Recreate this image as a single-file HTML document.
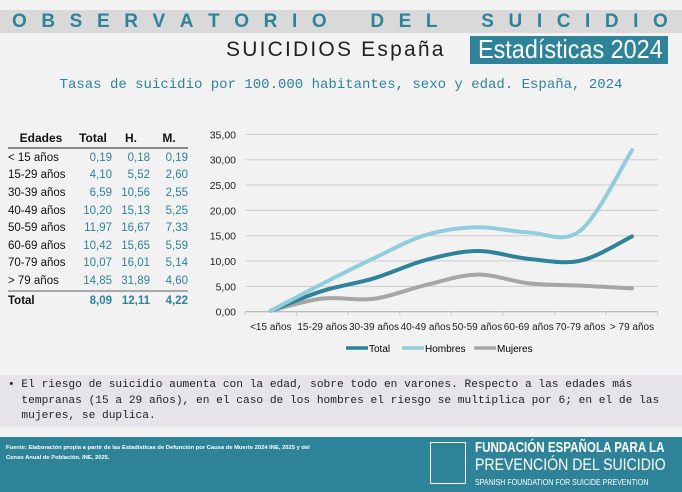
<!DOCTYPE html>
<html><head><meta charset="utf-8">
<style>
body{margin:0;width:682px;height:492px;background:#f2f2f2;font-family:"Liberation Sans",sans-serif;position:relative;overflow:hidden}
.a{position:absolute}
.hdr{left:0;top:10px;width:682px;height:23px;background:#d9d9d9}
.obs{left:12px;top:10px;width:656px;height:23px;display:flex;justify-content:space-between;font-size:19px;font-weight:bold;color:#2e8399;line-height:23px}
.sub{left:226px;top:36px;font-size:21px;color:#222;letter-spacing:2.2px;line-height:28px;white-space:nowrap}
.box{left:470px;top:36px;width:198px;height:28px;background:#2e8399}
.boxt{left:478px;top:35px;color:#fff;font-size:26px;line-height:28px;white-space:nowrap;transform:scaleX(0.9);transform-origin:left}
.ttl{left:0;width:682px;top:77px;text-align:center;font-family:"Liberation Mono",monospace;font-size:14px;color:#2e8399}
table{position:absolute;left:8px;top:129px;border-collapse:collapse;font-size:11.5px;white-space:nowrap}
td{padding:0;height:17.6px;text-align:right;color:#2e8399}
td:first-child{text-align:left;color:#111;width:66px}
td.c{width:38px}
th{font-size:12px;height:16px;color:#111;text-align:center;border-bottom:2px solid #888}
tr.t td{font-weight:bold;border-top:2px solid #aaa}
.bul{left:0;top:375px;width:682px;height:52px;background:#e6e4e8}
.bt{left:8px;top:378px;width:670px;font-family:"Liberation Mono",monospace;font-size:11.2px;line-height:15.5px;color:#222;white-space:nowrap}
.ft{left:0;top:437px;width:682px;height:55px;background:#2e8399}
.src{left:6px;top:443px;font-size:5.8px;font-weight:bold;color:#fff;line-height:10px;white-space:nowrap}
.lg{left:475px;color:#fff;line-height:17px;white-space:nowrap;transform-origin:left}
</style></head><body>
<div class="a hdr"></div>
<div class="a obs"><span>O</span><span>B</span><span>S</span><span>E</span><span>R</span><span>V</span><span>A</span><span>T</span><span>O</span><span>R</span><span>I</span><span>O</span><span> </span><span> </span><span>D</span><span>E</span><span>L</span><span> </span><span> </span><span>S</span><span>U</span><span>I</span><span>C</span><span>I</span><span>D</span><span>I</span><span>O</span></div>
<div class="a sub">SUICIDIOS España</div>
<div class="a box"></div>
<div class="a boxt">Estadísticas 2024</div>
<div class="a ttl">Tasas de suicidio por 100.000 habitantes, sexo y edad. España, 2024</div>
<table>
<tr><th style="text-align:center">Edades</th><th>Total</th><th>H.</th><th>M.</th></tr>
<tr><td>&lt; 15 años</td><td class="c">0,19</td><td class="c">0,18</td><td class="c">0,19</td></tr>
<tr><td>15-29 años</td><td>4,10</td><td>5,52</td><td>2,60</td></tr>
<tr><td>30-39 años</td><td>6,59</td><td>10,56</td><td>2,55</td></tr>
<tr><td>40-49 años</td><td>10,20</td><td>15,13</td><td>5,25</td></tr>
<tr><td>50-59 años</td><td>11,97</td><td>16,67</td><td>7,33</td></tr>
<tr><td>60-69 años</td><td>10,42</td><td>15,65</td><td>5,59</td></tr>
<tr><td>70-79 años</td><td>10,07</td><td>16,01</td><td>5,14</td></tr>
<tr><td>&gt; 79 años</td><td>14,85</td><td>31,89</td><td>4,60</td></tr>
<tr class="t"><td>Total</td><td>8,09</td><td>12,11</td><td>4,22</td></tr>
</table>
<svg class="a" style="left:0;top:0" width="682" height="492" font-family="Liberation Sans,sans-serif" font-size="10.5">
<g stroke="#ccc" stroke-width="1" id="grid"></g>
<g id="ylab" fill="#222" text-anchor="end"></g>
<g id="xlab" fill="#222" text-anchor="middle" font-size="10"></g>
<path id="pM" fill="none" stroke="#a6a6a6" stroke-width="4" stroke-linecap="round"/>
<path id="pT" fill="none" stroke="#2e8399" stroke-width="4" stroke-linecap="round"/>
<path id="pH" fill="none" stroke="#92cddc" stroke-width="4" stroke-linecap="round"/>
<g font-size="10">
<line x1="346" y1="348" x2="368" y2="348" stroke="#2e8399" stroke-width="3.5"/><text x="369" y="352">Total</text>
<line x1="402" y1="348" x2="424" y2="348" stroke="#92cddc" stroke-width="3.5"/><text x="425" y="352">Hombres</text>
<line x1="474" y1="348" x2="496" y2="348" stroke="#a6a6a6" stroke-width="3.5"/><text x="497" y="352">Mujeres</text>
</g>
</svg>
<div class="a bul"></div>
<div class="a bt">• El riesgo de suicidio aumenta con la edad, sobre todo en varones. Respecto a las edades más<br>&nbsp;&nbsp;tempranas (15 a 29 años), en el caso de los hombres el riesgo se multiplica por 6; en el de las<br>&nbsp;&nbsp;mujeres, se duplica.</div>
<div class="a ft"></div>
<div class="a src">Fuente: Elaboración propia a partir de las Estadísticas de Defunción por Causa de Muerte 2024 INE, 2025 y del<br>Censo Anual de Población. INE, 2025.</div>
<div class="a" style="left:430px;top:442px;width:34px;height:40px;border:1.5px solid #fff"></div>
<div class="a lg" style="top:440px;font-weight:bold;font-size:14.5px;transform:scaleX(0.8)">FUNDACIÓN ESPAÑOLA PARA LA</div>
<div class="a lg" style="top:456px;font-size:17px;transform:scaleX(0.83)">PREVENCIÓN DEL SUICIDIO</div>
<div class="a lg" style="top:474px;font-size:8px;transform:scaleX(0.88)">SPANISH FOUNDATION FOR SUICIDE PREVENTION</div>
<script>
var ns="http://www.w3.org/2000/svg",y0=311.7,k=5.066,x0=245,w=51.6;
function el(t,a,p,txt){var e=document.createElementNS(ns,t);for(var i in a)e.setAttribute(i,a[i]);if(txt)e.textContent=txt;document.getElementById(p).appendChild(e);}
for(var i=0;i<=7;i++){var y=y0-i*5*k;el("line",{x1:x0,x2:658,y1:y,y2:y,stroke:i?"#ccc":"#aaa"},"grid");el("text",{x:236,y:y+4},"ylab",(i*5)+",00");}
for(i=0;i<=8;i++)el("line",{x1:x0+i*w,x2:x0+i*w,y1:y0,y2:y0+4},"grid");
var cats=["<15 años","15-29 años","30-39 años","40-49 años","50-59 años","60-69 años","70-79 años","> 79 años"];
cats.forEach(function(c,i){el("text",{x:x0+w/2+i*w,y:330},"xlab",c);});
function path(v){var p=v.map(function(a,i){return[x0+w/2+i*w,y0-a*k];});var d="M"+p[0];for(var i=0;i<p.length-1;i++){var a=p[i-1]||p[i],b=p[i],c=p[i+1],e=p[i+2]||c;d+="C"+(b[0]+(c[0]-a[0])/6)+","+(b[1]+(c[1]-a[1])/6)+" "+(c[0]-(e[0]-b[0])/6)+","+(c[1]-(e[1]-b[1])/6)+" "+c;}return d;}
document.getElementById("pT").setAttribute("d",path([0.19,4.10,6.59,10.20,11.97,10.42,10.07,14.85]));
document.getElementById("pH").setAttribute("d",path([0.18,5.52,10.56,15.13,16.67,15.65,16.01,31.89]));
document.getElementById("pM").setAttribute("d",path([0.19,2.60,2.55,5.25,7.33,5.59,5.14,4.60]));
</script>
</body></html>
